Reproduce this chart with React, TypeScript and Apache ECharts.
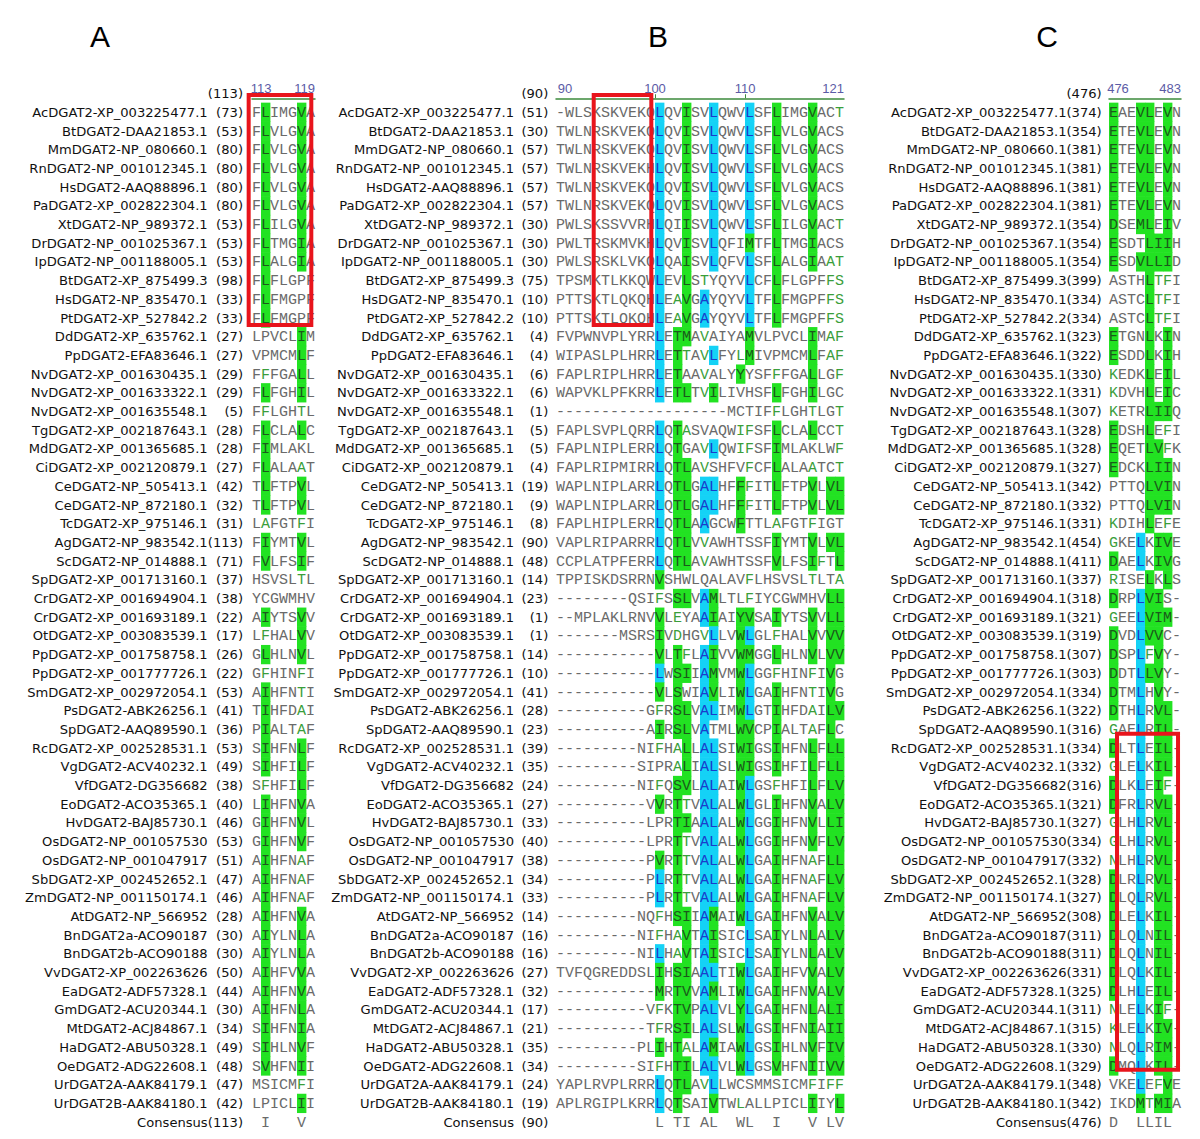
import React, { useEffect, useRef } from "react";
import * as echarts from "echarts";

// ---------------- DATA ----------------
const names = [
  "AcDGAT2-XP_003225477.1", "BtDGAT2-DAA21853.1", "MmDGAT2-NP_080660.1", "RnDGAT2-NP_001012345.1",
  "HsDGAT2-AAQ88896.1", "PaDGAT2-XP_002822304.1", "XtDGAT2-NP_989372.1", "DrDGAT2-NP_001025367.1",
  "IpDGAT2-NP_001188005.1", "BtDGAT2-XP_875499.3", "HsDGAT2-NP_835470.1", "PtDGAT2-XP_527842.2",
  "DdDGAT2-XP_635762.1", "PpDGAT2-EFA83646.1", "NvDGAT2-XP_001630435.1", "NvDGAT2-XP_001633322.1",
  "NvDGAT2-XP_001635548.1", "TgDGAT2-XP_002187643.1", "MdDGAT2-XP_001365685.1", "CiDGAT2-XP_002120879.1",
  "CeDGAT2-NP_505413.1", "CeDGAT2-NP_872180.1", "TcDGAT2-XP_975146.1", "AgDGAT2-NP_983542.1",
  "ScDGAT2-NP_014888.1", "SpDGAT2-XP_001713160.1", "CrDGAT2-XP_001694904.1", "CrDGAT2-XP_001693189.1",
  "OtDGAT2-XP_003083539.1", "PpDGAT2-XP_001758758.1", "PpDGAT2-XP_001777726.1", "SmDGAT2-XP_002972054.1",
  "PsDGAT2-ABK26256.1", "SpDGAT2-AAQ89590.1", "RcDGAT2-XP_002528531.1", "VgDGAT2-ACV40232.1",
  "VfDGAT2-DG356682", "EoDGAT2-ACO35365.1", "HvDGAT2-BAJ85730.1", "OsDGAT2-NP_001057530",
  "OsDGAT2-NP_001047917", "SbDGAT2-XP_002452652.1", "ZmDGAT2-NP_001150174.1", "AtDGAT2-NP_566952",
  "BnDGAT2a-ACO90187", "BnDGAT2b-ACO90188", "VvDGAT2-XP_002263626", "EaDGAT2-ADF57328.1",
  "GmDGAT2-ACU20344.1", "MtDGAT2-ACJ84867.1", "HaDGAT2-ABU50328.1", "OeDGAT2-ADG22608.1",
  "UrDGAT2A-AAK84179.1", "UrDGAT2B-AAK84180.1",
];

const numA = [73, 53, 80, 80, 80, 80, 53, 53, 53, 98, 33, 33, 27, 27, 29, 29, 5, 28, 28, 27, 42, 32, 31, 113, 71, 37, 38, 22, 17, 26, 22, 53, 41, 36, 53, 49, 38, 40, 46, 53, 51, 47, 46, 28, 30, 30, 50, 44, 30, 34, 49, 48, 47, 42];
const numB = [51, 30, 57, 57, 57, 57, 30, 30, 30, 75, 10, 10, 4, 4, 6, 6, 1, 5, 5, 4, 19, 9, 8, 90, 48, 14, 23, 1, 1, 14, 10, 41, 28, 23, 39, 35, 24, 27, 33, 40, 38, 34, 33, 14, 16, 16, 27, 32, 17, 21, 35, 34, 24, 19];
const numC = [374, 354, 381, 381, 381, 381, 354, 354, 354, 399, 334, 334, 323, 322, 330, 331, 307, 328, 328, 327, 342, 332, 331, 454, 411, 337, 318, 321, 319, 307, 303, 334, 322, 316, 334, 332, 316, 321, 327, 334, 332, 328, 327, 308, 311, 311, 331, 325, 311, 315, 330, 329, 348, 342];

// Panel A: positions 113-119
const seqA = [
  "FLIMGVA", "FLVLGVA", "FLVLGVA", "FLVLGVA", "FLVLGVA", "FLVLGVA", "FLILGVA", "FLTMGIA", "FLALGIA", "FLFLGPF",
  "FLFMGPF", "FLFMGPF", "LPVCLIM", "VPMCMLF", "FFFGALL", "FLFGHIL", "FFLGHTL", "FLCLALC", "FIMLAKL", "FLALAAT",
  "TLFTPVL", "TLFTPVL", "LAFGTFI", "FIYMTVL", "FVLFSIF", "HSVSLTL", "YCGWMHV", "AIYTSVV", "LFHALVV", "GLHLNVL",
  "GFHINFI", "AIHFNTI", "TIHFDAI", "PIALTAF", "SIHFNLF", "SIHFILF", "SFHFILF", "LIHFNVA", "GIHFNVL", "GIHFNVF",
  "AIHFNAF", "AIHFNAF", "AIHFNAF", "AIHFNVA", "AIYLNLA", "AIYLNLA", "AIHFVVA", "AIHFNVA", "AIHFNLA", "SIHFNIA",
  "SIHLNVF", "SVHFNII", "MSICMFI", "LPICLII",
];
// . plain, g green letter, G green block, B cyan block
const styA = [
  ".G...G.", ".G...G.", ".G...G.", ".G...G.", ".G...G.", ".G...G.", ".G...G.", ".G...G.", ".G...G.", ".G.....",
  ".G.....", ".G.....", ".....G.", ".....G.", ".g...G.", ".G...G.", ".g...g.", ".G...G.", ".G.....", ".G...g.",
  ".G...G.", ".G...G.", ".g...g.", ".G...G.", ".G...G.", ".....g.", ".......", ".G...G.", ".g...G.", ".G...G.",
  ".g...g.", ".G...g.", ".G...g.", ".G...g.", ".G...G.", ".G...G.", ".g...G.", ".G...G.", ".G...G.", ".G...G.",
  ".G...g.", ".G...g.", ".G...g.", ".G...G.", ".G...G.", ".G...G.", ".G...G.", ".G...G.", ".G...G.", ".G...G.",
  ".G...G.", ".G...G.", ".....g.", ".....G.",
];
const consA = " I   V ";

// Panel B: positions 90-121
const seqB = [
  "-WLSKSKVEKQLQVISVLQWVLSFLIMGVACT",
  "TWLNRSKVEKQLQVISVLQWVLSFLVLGVACS",
  "TWLNRSKVEKQLQVISVLQWVLSFLVLGVACS",
  "TWLNRSKVEKHLQVISVLQWVLSFLVLGVACS",
  "TWLNRSKVEKQLQVISVLQWVLSFLVLGVACS",
  "TWLNRSKVEKQLQVISVLQWVLSFLVLGVACS",
  "PWLSKSSVVRHLQIISVLQWVLSFLILGVACT",
  "PWLTRSKMVKHLQVISVLQFIMTFLTMGIACS",
  "PWLSRSKLVKQLQAISVLQFVLSFLALGIAAT",
  "TPSMKTLKKQWLEVLSTYQYVLCFLFLGPFFS",
  "PTTSKTLQKQHLEAVGAYQYVLTFLFMGPFFS",
  "PTTSKTLQKQHLEAVGAYQYVLTFLFMGPFFS",
  "FVPWNVPLYRRLETMAVAIYAMVLPVCLIMAF",
  "WIPASLPLHRRLETTAVLFYLMIVPMCMLFAF",
  "FAPLRIPLHRRLETAAVALYYYSFFFGALLGF",
  "WAPVKLPFKRRLETLTVILIVHSFLFGHILGC",
  "-------------------MCTIFFLGHTLGT",
  "FAPLSVPLQRRLQTASVAQWIFSFLCLALCCT",
  "FAPLNIPLERRLQTGAVLQWIFSFIMLAKLWF",
  "FAPLRIPMIRRLQTLAVSHFVFCFLALAATCT",
  "WAPLNIPLARRLQTLGALHFFFITLFTPVLVL",
  "WAPLNIPLARRLQTLGALHFFFITLFTPVLVL",
  "FAPLHIPLERRLQTLAAGCWFTTLAFGTFIGT",
  "VAPLRIPARRRLQTLVVAWHTSSFIYMTVLVL",
  "CCPLATPFERRLQTLAVAWHTSSFVLFSIFTL",
  "TPPISKDSRRNVSHWLQALAVFLHSVSLTLTA",
  "--------QSIFSSLVAMLTLFIYCGWMHVLL",
  "--MPLAKLRNVVLEYAAIAIYVSAIYTSVVLL",
  "-------MSRSIVDHGVLLVWLGLFHALVVVV",
  "-----------VLTFLAIVVWMGGLHLNVLVV",
  "-----------LWSIIAMVMWLGGFHINFIVG",
  "-----------VLSWIAVLIWLGAIHFNTIVG",
  "----------GFRSLVALIMWLGTIHFDAILV",
  "----------AIRSLVATMLWVCPIALTAFLC",
  "---------NIFHALLALSIWIGSIHFNLFLL",
  "---------SIPRALIALSLWIGSIHFILFLL",
  "---------NIFQSVLALAIWLGSFHFILFLV",
  "----------VVRTTVALALWLGLIHFNVALV",
  "----------LPRTIAALALWLGGIHFNVLLI",
  "----------LPRTTVALALWLGGIHFNVFLV",
  "----------PVRTTVALALWLGAIHFNAFLL",
  "----------PLRTTVALALWLGAIHFNAFLV",
  "----------PLRTTVALALWLGAIHFNAFLV",
  "---------NQFHSIIAMAIWLGAIHFNVALV",
  "---------NIFHAVTAISICLSAIYLNLALV",
  "---------NILHAVTAISICLSAIYLNLALV",
  "TVFQGREDDSLIHSIAALTIWLGAIHFVVALV",
  "-----------MRTVVAMLIWLGAIHFNVALV",
  "----------VFKTVPALVLYLGAIHFNLALI",
  "----------TFRSILALSLWLGSIHFNIAII",
  "---------PLIHTALAMIAWLGSIHLNVFIV",
  "---------SIFHTILALVLWLGSVHFNIIVV",
  "YAPLRVPLRRRLQTLAVLLWCSMMSICMFIFF",
  "APLRGIPLKRRLQTSAIVTWLALLPICLIIYL",
];
// styles of columns 101-121 (columns 90-100 are all plain)
const styB = [
  "B..G..B...B..G...G..g", "B..G..B...B..G...G...", "B..G..B...B..G...G...", "B..G..B...B..G...G...",
  "B..G..B...B..G...G...", "B..G..B...B..G...G...", "B..G..B...B..G...G..g", "B..G..B...G..G...G...",
  "B..G..B...B..G...G.gg", "B..G.g....B..G.....gg", "B.gG.B....B..G.....gg", "B.gG.B....B..G.....gg",
  "B.GG.g....G......G.gg", "B.Gg.gB..gG......G.gg", "B.G..g...G...g...G..g", "B.GG.gG......G...G...",
  ".............g...g..g", "B.Gg.....gg..G...G..g", "B.G..gB..gg..G......g", "B.GG.g....g..G...g..g",
  "B.GG.BB..Gg..G...G.GG", "B.GG.BB..Gg..G...G.GG", "B.GG.B...G...g...g...", "B.GG.g.......G...G.GG",
  "B.GG.g.......G...Gg.G", "G.........g......g..g", "g.GG.BG...g........GG", "G.g..BG..GG..G...G.GG",
  "G.g..gB..GB..g...G.GG", "G.Gg.BG..GG..G...G.GG", "B.GG.BG..GB..g...g.G.", "G.G..BG..GB..G...g.G.",
  "g.GG.BB..GB..G...g.GG", "G.GG.B...GG..G...g.G.", "g.gG.BB..GG..G...G.GG", "..gG.BB..GG..G...G.GG",
  "g.GG.BB..GB..g...G.GG", "G.Gg.BB..GB..G...G.GG", "..GG.BB..GB..G...G.GG", "..Gg.BB..GB..G...G.GG",
  "G.Gg.BB..GB..G...g.GG", "B.Gg.BB..GB..G...g.GG", "B.Gg.BB..GB..G...g.GG", "g.GG.BG..GB..G...G.GG",
  "g.gG.BG...B..G...G.GG", "B.gG.BG...B..G...G.GG", "G.GG.BB..GB..G...G.GG", "G.GG.BG..GB..G...G.GG",
  "g.GG.BB..GB..G...G.GG", "g.GG.BB..GB..G...G.GG", "G.Gg.BG..GB..G...G.GG", "g.GG.BB..GB..G...G.GG",
  "B.GG.gB..........g.gg", "B.G...G..g.......G..G",
];
const consB = "           L TI AL  WL  I   V LV";

// Panel C: positions 476-483
const seqC = [
  "EAEVLEVN", "ETEVLEVN", "ETEVLEVN", "ETEVLEVN", "ETEVLEVN", "ETEVLEVN", "DSEMLEIV", "ESDTLIIH", "ESDVLLID", "ASTHLTFI",
  "ASTCLTFI", "ASTCLTFI", "ETGNLKIN", "ESDDLKIH", "KEDKLEIL", "KDVHLEIC", "KETRLIIQ", "EDSHLEFI", "EQETLVFK", "EDCKLIIN",
  "PTTQLVIN", "PTTQLVIN", "KDIHLEFE", "GKELKIVE", "DAELKIVG", "RISELKLS", "DRPLVIS-", "GEELVIM-", "DVDLVVC-", "DSPLFVY-",
  "DDTLLVY-", "DTMLHVY-", "DTHLRVL-", "GAELRIL-", "DLTLEIL-", "GLELKIL-", "DLKLEIF-", "DFRLRVL-", "GLHLRVL-", "GLHLRVL-",
  "NLHLRVL-", "DLRLRVL-", "DLQLRVL-", "DLELKIL-", "DLQLNIL-", "DLQLNIL-", "DLQLKIL-", "DLHLEIL-", "NLELKIF-", "KLELKIV-",
  "NLQLRIM-", "DMQLKIL-", "VKELEFVE", "IKDMTMIA",
];
const styC = [
  "G..GG.G.", "G..GG.G.", "G..GG.G.", "G..GG.G.", "G..GG.G.", "G..GG.G.", "G..GG.G.", "G...GGG.", "G..GGGG.", "....Ggg.",
  "....Ggg.", "....Ggg.", "G...G.G.", "G...G.G.", "g...G.G.", "g...G.G.", "g...GGG.", "G...G.g.", "G...GGg.", "G...GGG.",
  "....GGG.", "....GGG.", "g...G.g.", "g..B.GG.", "G..B.GG.", "g...G.G.", "G..BGG..", "g..BGGG.", "G..BGG..", "G..BgG..",
  "G..BGG..", "G..B.G..", "G..B.GG.", "g..B.GG.", "G..B.GG.", "g..B.GG.", "G..B.Gg.", "G..B.GG.", "g..B.GG.", "g..B.GG.",
  "g..B.GG.", "G..B.GG.", "G..B.GG.", "G..B.GG.", "G..B.GG.", "G..B.GG.", "G..B.GG.", "G..B.GG.", "g..B.Gg.", "g..B.GG.",
  "g..B.GG.", "G..B.GG.", "...B.gG.", "...GgGG.",
];
const consC = "D  LLIL ";

// red boxes, in column / row units: [colFrom, rowFrom, colTo, rowTo]
const boxA = [-0.37, 0.08, 6.59, 12.37];
const boxB = [4.19, 0.08, 10.59, 12.37];
const boxC = [0.89, 34.23, 7.67, 52.2];

// ---------------- STYLE ----------------
const GREEN_BG = "#22e222";
const CYAN_BG = "#14d2f6";
const TXT_PLAIN = "#6a6a6a";
const TXT_GREEN = "#3a9e3a";
const TXT_ON_GREEN = "#1b5a1b";
const TXT_ON_CYAN = "#1a3ccc";
const SEQ_FONT = "Liberation Mono";
const NAME_FONT = "DejaVu Sans";

const NROW = 56; // header + 54 sequences + consensus
const ROWH = 18.7;
const TOP = 84.25;

type Cell = { value: number[]; ch: string; st: string };

function buildCells(seqs: string[], stys: string[], cons: string, pre: number): Cell[] {
  const cells: Cell[] = [];
  seqs.forEach((s, r) => {
    for (let c = 0; c < s.length; c++) {
      const st = c < pre ? "." : stys[r][c - pre] || ".";
      cells.push({ value: [c + 0.5, r + 1], ch: s[c], st });
    }
  });
  for (let c = 0; c < cons.length; c++) {
    if (cons[c] !== " ") cells.push({ value: [c + 0.5, NROW - 1], ch: cons[c], st: "." });
  }
  return cells;
}

function cellSeries(cells: Cell[], gi: number) {
  return {
    type: "custom",
    xAxisIndex: gi,
    yAxisIndex: gi * 3 + 2,
    data: cells.map((c) => c.value),
    encode: { x: 0, y: 1 },
    silent: true,
    renderItem: (params: any, api: any) => {
      const cell = cells[params.dataIndex];
      const pt = api.coord([api.value(0), api.value(1)]);
      const sz = api.size([1, 1]);
      const children: any[] = [];
      let fill = TXT_PLAIN;
      if (cell.st === "G" || cell.st === "B") {
        children.push({
          type: "rect",
          shape: { x: pt[0] - sz[0] / 2, y: pt[1] - sz[1] / 2 - 0.3, width: sz[0] + 0.4, height: sz[1] + 0.6 },
          style: { fill: cell.st === "G" ? GREEN_BG : CYAN_BG },
        });
        fill = cell.st === "G" ? TXT_ON_GREEN : TXT_ON_CYAN;
      } else if (cell.st === "g") {
        fill = TXT_GREEN;
      }
      children.push({
        type: "text",
        x: pt[0],
        y: pt[1] + 1,
        style: {
          text: cell.ch,
          fill,
          fontSize: 15,
          fontFamily: SEQ_FONT,
          align: "center",
          verticalAlign: "middle",
          textAlign: "center",
          textVerticalAlign: "middle",
        },
      });
      return { type: "group", children };
    },
  };
}

function boxSeries(box: number[], gi: number) {
  return {
    type: "custom",
    xAxisIndex: gi,
    yAxisIndex: gi * 3 + 2,
    data: [box],
    z: 10,
    silent: true,
    renderItem: (params: any, api: any) => {
      const p0 = api.coord([api.value(0), api.value(1)]);
      const p1 = api.coord([api.value(2), api.value(3)]);
      return {
        type: "rect",
        shape: { x: p0[0], y: p0[1], width: p1[0] - p0[0], height: p1[1] - p0[1] },
        style: { fill: "none", stroke: "#e8141c", lineWidth: 4 },
      };
    },
  };
}

type Panel = {
  seqs: string[];
  stys: string[];
  cons: string;
  pre: number;
  nums: number[];
  head: number;
  start: number;
  ncols: number;
  left: number;
  nameOff: number;
  numOff: number;
  labelAt: number[];
  tickAt: number[];
  box: number[];
};

const panels: Panel[] = [
  { seqs: seqA, stys: styA, cons: consA, pre: 0, nums: numA, head: 113, start: 113, ncols: 7, left: 252, nameOff: 44.3, numOff: 9, labelAt: [1, 7], tickAt: [], box: boxA },
  { seqs: seqB, stys: styB, cons: consB, pre: 11, nums: numB, head: 90, start: 90, ncols: 32, left: 556, nameOff: 42, numOff: 7.7, labelAt: [1, 11, 21, 32], tickAt: [11, 21], box: boxB },
  { seqs: seqC, stys: styC, cons: consC, pre: 0, nums: numC, head: 476, start: 476, ncols: 8, left: 1109, nameOff: 42.5, numOff: 7.3, labelAt: [1, 8], tickAt: [], box: boxC },
];

function buildOption() {
  const grid: any[] = [];
  const xAxis: any[] = [];
  const yAxis: any[] = [];
  const series: any[] = [];
  panels.forEach((p, gi) => {
    grid.push({ left: p.left, top: TOP, width: p.ncols * 9, height: NROW * ROWH });
    xAxis.push({
      type: "value",
      gridIndex: gi,
      position: "top",
      min: 0,
      max: p.ncols,
      offset: -14,
      splitLine: { show: false },
      axisLine: { show: true, lineStyle: { color: "#3d8b3d", width: 1.5 } },
      axisTick: { show: p.tickAt.length > 0, customValues: p.tickAt, length: 4, lineStyle: { color: "#3d8b3d", width: 1 } },
      axisLabel: {
        customValues: p.labelAt,
        formatter: (v: number) => String(p.start + Math.round(v) - 1),
        color: "#5b5ba6",
        fontSize: 13,
        fontFamily: "Liberation Sans",
        margin: 3,
        alignMaxLabel: "right",
      },
    });
    const nameData = ["", ...names, "Consensus"];
    const numData = [`(${p.head})`, ...p.nums.map((n) => `(${n})`), `(${p.head})`];
    const common = {
      type: "category",
      gridIndex: gi,
      inverse: true,
      position: "left",
      axisLine: { show: false },
      axisTick: { show: false },
      splitLine: { show: false },
    };
    yAxis.push({
      ...common,
      data: nameData,
      offset: p.nameOff,
      axisLabel: { interval: 0, margin: 0, fontSize: 13.1, fontFamily: NAME_FONT, color: "#111" },
    });
    yAxis.push({
      ...common,
      data: numData,
      offset: p.numOff,
      axisLabel: { interval: 0, margin: 0, fontSize: 13.1, fontFamily: NAME_FONT, color: "#111" },
    });
    yAxis.push({
      type: "value",
      gridIndex: gi,
      inverse: true,
      min: -0.5,
      max: NROW - 0.5,
      show: false,
    });
    series.push(cellSeries(buildCells(p.seqs, p.stys, p.cons, p.pre), gi));
    series.push(boxSeries(p.box, gi));
  });

  const letters = [
    { t: "A", x: 100 },
    { t: "B", x: 658 },
    { t: "C", x: 1047 },
  ];
  return {
    animation: false,
    backgroundColor: "#ffffff",
    grid,
    xAxis,
    yAxis,
    series,
    graphic: letters.map((l) => ({
      type: "text",
      x: l.x,
      y: 36,
      style: {
        text: l.t,
        fontSize: 30,
        fontFamily: "Liberation Sans",
        fill: "#000",
        align: "center",
        verticalAlign: "middle",
        textAlign: "center",
        textVerticalAlign: "middle",
      },
    })),
  };
}

export default function App() {
  const ref = useRef<HTMLDivElement>(null);
  useEffect(() => {
    if (!ref.current) return;
    const chart = echarts.init(ref.current, undefined, { renderer: "svg" });
    chart.setOption(buildOption() as any);
    return () => chart.dispose();
  }, []);
  return (
    <div
      ref={ref}
      style={{ position: "absolute", left: 0, top: 0, width: 1200, height: 1139, background: "#fff" }}
    />
  );
}
